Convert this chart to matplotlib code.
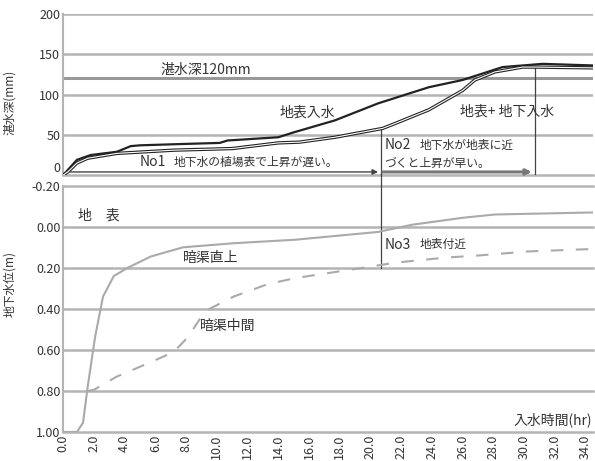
import matplotlib
matplotlib.use("Agg")
import matplotlib.pyplot as plt

plt.rcParams["font.family"] = ["Noto Sans CJK JP", "DejaVu Sans"]

# 湛水深 (mm): 地表入水
t_surf = [0.0, 0.1, 0.9, 1.8, 3.5, 4.4, 5.0, 7.5, 10.2, 10.7, 14.0, 15.0,
          17.7, 20.5, 23.8, 26.0, 27.3, 28.6, 29.9, 31.2, 34.5]
v_surf = [0, 2, 19, 25, 29, 36, 37, 38.5, 40, 43, 47, 53,
          68, 89, 109, 118, 126, 134, 136, 138, 136]

# 湛水深 (mm): 地表+地下入水
t_both = [0.0, 0.3, 0.9, 1.6, 3.5, 7.2, 11.0, 14.0, 15.4, 17.7, 20.8,
          21.6, 23.8, 26.0, 26.8, 28.1, 29.9, 30.7, 34.5]
v_both = [0, 4, 15, 21, 27, 31, 33, 40, 41, 47, 58,
          64, 81, 105, 118, 128, 134, 134, 133]

# 地下水位 (m): 暗渠直上
t_drain = [0.0, 0.9, 1.3, 1.6, 2.1, 2.6, 3.3, 4.2, 5.7, 7.8, 11.1, 15.1,
           20.5, 22.7, 26.0, 28.1, 34.5]
d_drain = [1.00, 1.00, 0.955, 0.78, 0.53, 0.34, 0.24, 0.20, 0.145, 0.10,
           0.08, 0.063, 0.025, -0.01, -0.044, -0.06, -0.07]

# 地下水位 (m): 暗渠中間
t_mid = [1.6, 2.0, 3.5, 5.7, 7.2, 8.1, 8.9, 9.4, 11.1, 13.3, 15.1, 19.5,
         21.6, 24.9, 27.0, 30.3, 34.5]
d_mid = [0.80, 0.795, 0.73, 0.66, 0.61, 0.54, 0.45, 0.405, 0.34, 0.28,
         0.25, 0.20, 0.175, 0.15, 0.14, 0.12, 0.108]

x_ticks = [i * 2.0 for i in range(18)]
upper_ticks = [0, 50, 100, 150, 200]
lower_ticks = [-0.20, 0.00, 0.20, 0.40, 0.60, 0.80, 1.00]
flood_depth = 120

GRID = "#b4b4b4"
TXT = "#333333"
LBL = 10      # curve / region labels
NOTE = 8.5    # small notes next to No1..No3

fig = plt.figure(figsize=(5.95, 4.61), dpi=100)
ax1 = fig.add_axes([0.106, 0.620, 0.891, 0.350])
ax2 = fig.add_axes([0.106, 0.063, 0.891, 0.534])

for ax in (ax1, ax2):
    ax.set_xlim(0, 34.5)
    for s in ("top", "right", "bottom"):
        ax.spines[s].set_visible(False)
    ax.spines["left"].set_color(GRID)
    ax.spines["left"].set_linewidth(1.5)
    ax.tick_params(length=0, labelsize=9, labelcolor=TXT, pad=2)

# --- upper panel: ponding depth ------------------------------------------
ax1.set_ylim(0, 200)
ax1.set_yticks(upper_ticks)
ax1.set_xticks([])
# the "0" label sits just above the lower panel's top label
ax1.get_yticklabels()[0].set_verticalalignment("bottom")
for y in upper_ticks[1:]:
    ax1.axhline(y, color=GRID, lw=1.8, zorder=0)
ax1.axhline(0, color=GRID, lw=1.8, zorder=0, clip_on=False)
ax1.axhline(flood_depth, color="#999999", lw=2.2, zorder=0)
ax1.text(9.3, 131, "湛水深120mm", fontsize=LBL, color=TXT, ha="center", va="center")

ax1.plot(t_surf, v_surf, color="#222222", lw=1.6, zorder=3)
ax1.plot(t_both, v_both, color="#222222", lw=2.4, zorder=3)
ax1.plot(t_both, v_both, color="white", lw=0.8, zorder=4)

ax1.text(15.9, 77, "地表入水", fontsize=LBL, color=TXT, ha="center", va="center")
ax1.text(28.9, 79, "地表+ 地下入水", fontsize=LBL, color=TXT, ha="center", va="center")

ax1.plot([20.7, 20.7], [0, 56], color="#444444", lw=0.9, zorder=2)
ax1.plot([30.7, 30.7], [0, 133], color="#444444", lw=0.9, zorder=2)

ax1.annotate("", xy=(20.5, 4), xytext=(0.2, 4),
             arrowprops=dict(arrowstyle="-|>", color="#444444", lw=1.0,
                             mutation_scale=8, shrinkA=0, shrinkB=0))
ax1.annotate("", xy=(30.5, 4), xytext=(20.8, 4),
             arrowprops=dict(arrowstyle="-|>", color="#777777", lw=2.2,
                             mutation_scale=8, shrinkA=0, shrinkB=0))
ax1.text(5.0, 16, "No1", fontsize=LBL, color=TXT, va="center")
ax1.text(7.2, 16, "地下水の植場表で上昇が遅い。", fontsize=NOTE, color=TXT, va="center")
ax1.text(20.9, 37, "No2", fontsize=LBL, color=TXT, va="center")
ax1.text(23.2, 37, "地下水が地表に近", fontsize=NOTE, color=TXT, va="center")
ax1.text(20.9, 15, "づくと上昇が早い。", fontsize=NOTE, color=TXT, va="center")
ax1.set_ylabel("湛水深(mm)", fontsize=8.5, color=TXT)

# --- lower panel: groundwater level --------------------------------------
ax2.set_ylim(1.0, -0.2)
ax2.set_yticks(lower_ticks)
ax2.set_yticklabels([f"{v:.2f}" for v in lower_ticks])
for y in lower_ticks:
    ax2.axhline(y, color=GRID, lw=1.8, zorder=0, clip_on=False)
ax2.set_xticks(x_ticks)
ax2.set_xticklabels([f"{v:.1f}" for v in x_ticks], rotation=90)

ax2.plot(t_drain, d_drain, color="#aaaaaa", lw=1.5, zorder=3)
ax2.plot(t_mid, d_mid, color="#aaaaaa", lw=1.5, ls=(0, (6, 6)), zorder=3)

ax2.plot([20.7, 20.7], [-0.26, 0.20], color="#444444", lw=0.9,
         zorder=2, clip_on=False)

ax2.text(1.0, -0.055, "地　表", fontsize=LBL, color=TXT, va="center")
ax2.text(7.8, 0.151, "暗渠直上", fontsize=LBL, color=TXT, va="center")
ax2.text(8.9, 0.483, "暗渠中間", fontsize=LBL, color=TXT, va="center")
ax2.text(20.9, 0.088, "No3", fontsize=LBL, color=TXT, va="center")
ax2.text(23.2, 0.088, "地表付近", fontsize=NOTE, color=TXT, va="center")
ax2.text(34.4, 0.975, "入水時間(hr)", fontsize=LBL, color=TXT, ha="right", va="bottom")
ax2.set_ylabel("地下水位(m)", fontsize=8.5, color=TXT)

ax1.yaxis.set_label_coords(-0.088, 0.45)
ax2.yaxis.set_label_coords(-0.088, 0.60)

fig.savefig("out.png", dpi=100)
